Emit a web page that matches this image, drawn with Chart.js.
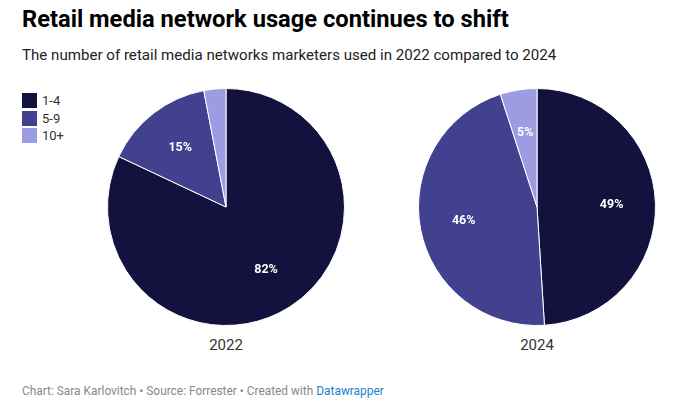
<!DOCTYPE html>
<html>
<head>
<meta charset="utf-8">
<script src="https://cdn.jsdelivr.net/npm/chart.js@4"></script>
<style>
  body { margin: 0; width: 678px; height: 408px; background: #fff; font-family: Roboto, sans-serif; position: relative; overflow: hidden; }
  h1 { position: absolute; left: 22px; top: 5px; margin: 0; font-size: 23.7px; font-weight: 700; color: #000; }
  .sub { position: absolute; left: 22px; top: 46px; font-size: 15.1px; color: #222; }
  .legend { position: absolute; left: 22px; top: 92px; font-size: 13px; color: #333; }
  .legend div { height: 17.5px; display: flex; align-items: center; }
  .legend span { display: inline-block; width: 15px; height: 15px; margin-right: 5px; }
  .pie { position: absolute; top: 88px; width: 238px; height: 238px; }
  .year { position: absolute; top: 336px; width: 100px; text-align: center; font-size: 15px; color: #333; }
  .foot { position: absolute; left: 22px; top: 384px; font-size: 11.9px; color: #888; }
  .foot a { color: #1d81d4; text-decoration: none; }
</style>
</head>
<body>
<h1>Retail media network usage continues to shift</h1>
<div class="sub">The number of retail media networks marketers used in 2022 compared to 2024</div>
<div class="legend" id="legend"></div>
<div class="pie" style="left:107px"><canvas id="pie2022"></canvas></div>
<div class="pie" style="left:418px"><canvas id="pie2024"></canvas></div>
<div class="year" style="left:176px">2022</div>
<div class="year" style="left:487px">2024</div>
<div class="foot">Chart: Sara Karlovitch • Source: Forrester • Created with <a>Datawrapper</a></div>

<script>
// data
const categories = ["1-4", "5-9", "10+"];
const values2022 = [82, 15, 3];
const values2024 = [49, 46, 5];
const colors = ["#13123f", "#41418f", "#9d9ce3"];

// legend
const legendEl = document.getElementById("legend");
categories.forEach((c, i) => {
  const row = document.createElement("div");
  row.innerHTML = `<span style="background:${colors[i]}"></span>${c}`;
  legendEl.appendChild(row);
});

// percent labels inside slices
const sliceLabels = {
  id: "sliceLabels",
  afterDatasetsDraw(chart) {
    const ctx = chart.ctx;
    const data = chart.data.datasets[0].data;
    ctx.save();
    ctx.font = "bold 12.5px Roboto, sans-serif";
    ctx.fillStyle = "#fff";
    ctx.textAlign = "center";
    ctx.textBaseline = "middle";
    chart.getDatasetMeta(0).data.forEach((arc, i) => {
      if (data[i] < 5) return;
      const p = arc.getProps(["x", "y", "startAngle", "endAngle", "outerRadius"], true);
      const mid = (p.startAngle + p.endAngle) / 2;
      const r = p.outerRadius * 0.63;
      ctx.fillText(data[i] + "%", p.x + Math.cos(mid) * r, p.y + Math.sin(mid) * r);
    });
    ctx.restore();
  }
};

function makePie(id, values) {
  new Chart(document.getElementById(id), {
    type: "pie",
    data: {
      labels: categories,
      datasets: [{
        data: values,
        backgroundColor: colors,
        borderColor: "#fff",
        borderWidth: 1
      }]
    },
    options: {
      responsive: true,
      maintainAspectRatio: false,
      animation: false,
      layout: { padding: 0 },
      plugins: { legend: { display: false }, tooltip: { enabled: false } }
    },
    plugins: [sliceLabels]
  });
}

makePie("pie2022", values2022);
makePie("pie2024", values2024);
</script>
</body>
</html>
